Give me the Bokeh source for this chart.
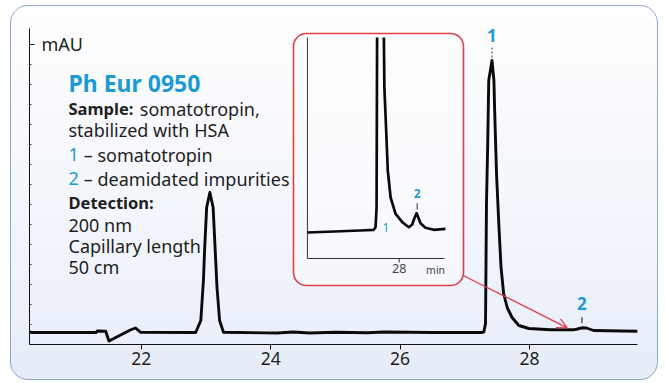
import numpy as np
from bokeh.plotting import figure
from bokeh.models import (Range1d, FixedTicker, Label, BoxAnnotation, Arrow, OpenHead)
from bokeh.embed import file_html
from bokeh.resources import INLINE

# ---------------- data ----------------
main_time = [20.27, 20.30, 21.30, 21.32, 21.45, 21.50, 21.83, 21.91, 21.99,
             22.84, 22.92, 22.96, 22.98, 23.01, 23.06, 23.11, 23.14, 23.17, 23.21, 23.27,
             24.10, 24.35, 24.60, 25.00, 25.50, 25.75, 26.50, 27.25,
             27.294, 27.32, 27.335, 27.355, 27.37, 27.42, 27.45, 27.46, 27.49, 27.525,
             27.56, 27.60, 27.655, 27.73, 27.835, 27.99, 28.32, 28.68, 28.74, 28.81,
             28.88, 28.99, 29.67]
main_mau = [1.28, 1.20, 1.20, 1.35, 1.32, 0.35, 1.45, 1.65, 1.22,
            1.20, 2.4, 6.4, 9.7, 13.7, 15.2, 13.7, 9.7, 5.7, 2.4, 1.22,
            1.15, 1.25, 1.15, 1.22, 1.18, 1.25, 1.20, 1.20,
            1.25, 2.1, 14.1, 20.4, 26.4, 28.4, 26.4, 23.7, 17.1, 12.1,
            7.7, 5.1, 3.7, 2.7, 1.9, 1.6, 1.47, 1.47, 1.55, 1.67,
            1.65, 1.40, 1.33]

inset_time = [24.47, 25.50, 26.50, 27.02, 27.09, 27.13, 27.15, np.nan,
              27.41, 27.43, 27.51, 27.56, 27.67, 27.86, 28.12, 28.37, 28.50,
              28.58, 28.67, 28.75, 28.82, 29.01, 29.33, 29.78]
inset_mau = [2.60, 2.70, 2.80, 2.87, 3.13, 5.13, 22.1, np.nan,
             22.1, 17.1, 12.1, 8.8, 6.1, 4.47, 3.63, 3.13, 3.40,
             4.0, 4.53, 4.0, 3.53, 3.07, 2.87, 2.97]

x_ticks = [22, 24, 26, 28]
y_major = [30]
y_minor = [2, 4, 6, 8, 10, 12, 14, 16, 18, 20, 22, 24, 26, 28]
peak_time = [27.42, 28.81]
peak_mau = [28.4, 1.67]
peak_names = ["1", "2"]
inset_ticks = [28]
inset_peak_time = [27.41, 28.69]
inset_peak_mau = [3.13, 4.53]

# ---------------- layout constants ----------------
X0, X1 = 20.272, 29.669
Y0, Y1 = 0.0, 31.6
FL, FR, FT, FB = 29, 637, 28, 344     # frame in page pixels


def X(px):
    return X0 + (px - FL) / (FR - FL) * (X1 - X0)


def Y(py):
    return Y0 + (FB - py) / (FB - FT) * (Y1 - Y0)


CYAN = "#1b9ad6"
RED = "#e43d48"
INK = "#1e1e1e"
FONT = "Noto Sans"
BODY = "18px"
BOLD = "16.5px"

p = figure(width=648, height=375, x_range=Range1d(X0, X1), y_range=Range1d(Y0, Y1),
           output_backend="svg", toolbar_location=None,
           min_border_left=19, min_border_right=21, min_border_top=23, min_border_bottom=36)
p.styles = {"position": "fixed", "left": "10px", "top": "5px",
            "background": "linear-gradient(180deg, #ffffff 0%, #f3f6fc 55%, #e6edf8 100%)",
            "border-radius": "18px",
            "outline": "1.5px solid #8fa6d0", "outline-offset": "-1.5px"}
p.border_fill_alpha = 0
p.background_fill_alpha = 0
p.outline_line_color = None
p.xgrid.visible = False
p.ygrid.visible = False

# x axis
xa = p.xaxis[0]
xa.ticker = FixedTicker(ticks=x_ticks)
xa.major_tick_out = 5
xa.major_tick_in = 0
xa.minor_tick_out = 0
xa.minor_tick_in = 0
xa.axis_line_color = "#111111"
xa.major_tick_line_color = "#111111"
xa.major_label_text_font = FONT
xa.major_label_text_font_size = "17.5px"
xa.major_label_text_color = INK
xa.major_label_standoff = 2

# y axis
ya = p.yaxis[0]
ya.ticker = FixedTicker(ticks=y_major, minor_ticks=y_minor)
ya.major_tick_out = 0
ya.major_tick_in = 5
ya.minor_tick_out = 0
ya.minor_tick_in = 2
ya.axis_line_color = "#111111"
ya.major_tick_line_color = "#111111"
ya.minor_tick_line_color = "#444444"
ya.major_label_overrides = {30: ""}
ya.major_label_standoff = 0

# inset ranges (drawn inside the main frame)
p.extra_x_ranges = {"ix": Range1d(13.781, 37.165)}
p.extra_y_ranges = {"iy": Range1d(-8.6, 23.0)}

# inset frame
p.add_layout(BoxAnnotation(left=X(293), right=X(463), top=Y(33), bottom=Y(285),
                           border_radius=13, fill_color="#ffffff", fill_alpha=0.45,
                           line_color=RED, line_alpha=1.0, line_width=1.6, level="underlay"))

# main trace
p.line(main_time, main_mau, line_color="#0a0a0a", line_width=2.9, line_join="round")

# inset axes
ix_left, ix_right, iy_top = 24.47, 29.74, 22.1
p.segment(x0=[ix_left, ix_left], y0=[0, 0], x1=[ix_left, ix_right], y1=[iy_top, 0],
          line_color="#333333", line_width=1, x_range_name="ix", y_range_name="iy")
p.segment(x0=inset_ticks, y0=[0], x1=inset_ticks, y1=[-0.4],
          line_color="#333333", line_width=1, x_range_name="ix", y_range_name="iy")
p.line(inset_time, inset_mau, line_color="#0a0a0a", line_width=2.7, line_join="round",
       x_range_name="ix", y_range_name="iy")
for t in inset_ticks:
    p.add_layout(Label(x=t, y=-1.0, text=str(t), text_align="center", text_baseline="middle",
                       text_font=FONT, text_font_size="12.5px", text_color="#444444",
                       x_range_name="ix", y_range_name="iy"))
p.add_layout(Label(x=29.4, y=-1.1, text="min", text_align="center", text_baseline="middle",
                   text_font=FONT, text_font_size="10.5px", text_color="#444444",
                   x_range_name="ix", y_range_name="iy"))
p.add_layout(Label(x=inset_peak_time[0] - 0.05, y=inset_peak_mau[0], text="1", text_align="left",
                   text_baseline="middle", text_font=FONT, text_font_size="12px",
                   text_color=CYAN, x_range_name="ix", y_range_name="iy"))
p.add_layout(Label(x=inset_peak_time[1], y=inset_peak_mau[1] + 1.95, text="2", text_align="center",
                   text_baseline="middle", text_font=FONT, text_font_size="12px",
                   text_font_style="bold", text_color=CYAN, x_range_name="ix", y_range_name="iy"))
p.segment(x0=[inset_peak_time[1]], y0=[inset_peak_mau[1] + 0.35], x1=[inset_peak_time[1]],
          y1=[inset_peak_mau[1] + 1.0], line_color="#333333", line_width=1,
          x_range_name="ix", y_range_name="iy")

# peak markers on main chart
p.segment(x0=[peak_time[0]], y0=[peak_mau[0] + 0.3], x1=[peak_time[0]], y1=[peak_mau[0] + 1.3],
          line_color="#555555", line_width=1.2, line_dash="2 2")
p.segment(x0=[peak_time[1]], y0=[peak_mau[1] + 0.45], x1=[peak_time[1]], y1=[peak_mau[1] + 1.05],
          line_color="#333333", line_width=1.2)
p.add_layout(Label(x=peak_time[0], y=peak_mau[0] + 2.5, text=peak_names[0], text_align="center",
                   text_baseline="middle", text_font=FONT, text_font_size="17px",
                   text_font_style="bold", text_color=CYAN))
p.add_layout(Label(x=peak_time[1], y=peak_mau[1] + 2.45, text=peak_names[1], text_align="center",
                   text_baseline="middle", text_font=FONT, text_font_size="17px",
                   text_font_style="bold", text_color=CYAN))

# red arrow from inset to peak 2
p.add_layout(Arrow(end=OpenHead(size=10, line_color=RED, line_width=1.3),
                   x_start=X(462.7), y_start=Y(275), x_end=X(566.7), y_end=Y(327.3),
                   line_color=RED, line_width=1.3))


# texts
def txt(px, py, s, size=BODY, style="normal", color=INK, align="left"):
    p.add_layout(Label(x=X(px), y=Y(py), text=s, text_align=align, text_baseline="middle",
                       text_font=FONT, text_font_size=size, text_font_style=style,
                       text_color=color))


txt(41, 43, "mAU")
txt(640, 358, "min", align="right")
txt(68, 82, "Ph Eur 0950", size="23px", style="bold", color=CYAN)
txt(68, 108, "Sample:", size=BOLD, style="bold")
txt(139.3, 108, "somatotropin,")
txt(68, 129, "stabilized with HSA")
txt(68, 154, "1", color=CYAN)
txt(83.3, 154, "– somatotropin")
txt(68, 178, "2", color=CYAN)
txt(83.3, 178, "– deamidated impurities")
txt(68, 202, "Detection:", size=BOLD, style="bold")
txt(68, 224, "200 nm")
txt(68, 245, "Capillary length")
txt(68, 266, "50 cm")

open("out.html", "w").write(file_html(p, INLINE))
